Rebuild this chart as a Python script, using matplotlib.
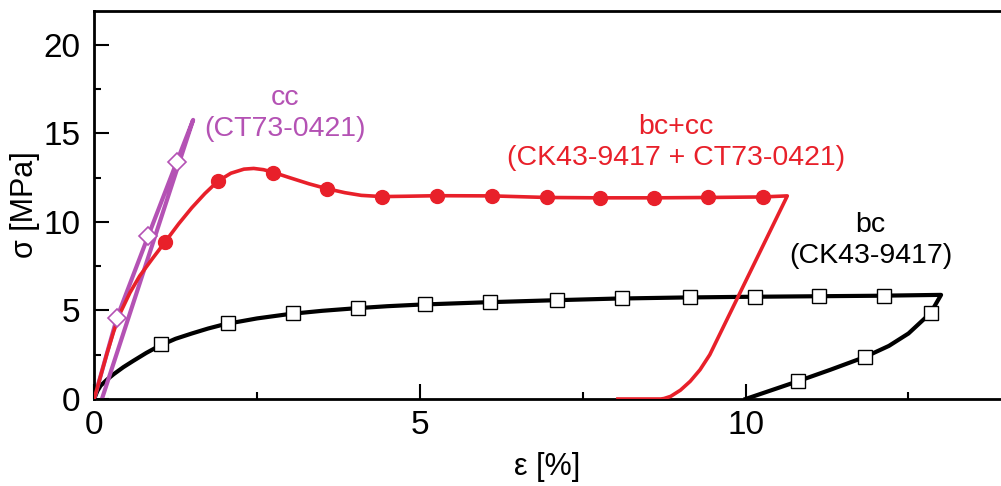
import matplotlib
matplotlib.use('Agg')
import matplotlib.pyplot as plt
from matplotlib.ticker import MultipleLocator

plt.rcParams['font.family'] = ['Liberation Sans', 'DejaVu Sans']

# bc (CK43-9417): loading + unloading curve
bc_x = [0, 0.05, 0.1, 0.2, 0.3, 0.45, 0.6, 0.8, 1.0, 1.25, 1.5, 1.75, 2.0, 2.5, 3.0, 3.5, 4.0, 4.5,
        5.0, 6.0, 7.0, 8.0, 9.0, 10.0, 11.0, 12.0, 13.0,
        12.84, 12.5, 12.2, 11.83, 11.3, 10.8, 10.4, 10.0]
bc_y = [0, 0.45, 0.75, 1.1, 1.4, 1.8, 2.15, 2.6, 3.0, 3.4, 3.7, 3.98, 4.22, 4.55, 4.8, 4.98, 5.12, 5.24,
        5.33, 5.46, 5.57, 5.67, 5.73, 5.77, 5.8, 5.83, 5.88,
        4.86, 3.7, 3.0, 2.37, 1.65, 1.0, 0.5, 0]
bc_mx = [1.03, 2.05, 3.05, 4.05, 5.08, 6.07, 7.1, 8.1, 9.14, 10.14, 11.13, 12.13, 12.84, 11.83, 10.8]
bc_my = [3.1, 4.3, 4.86, 5.14, 5.37, 5.48, 5.59, 5.7, 5.76, 5.76, 5.82, 5.82, 4.86, 2.37, 1.0]

# bc+cc (CK43-9417 + CT73-0421)
mix_x = [0, 0.1, 0.2, 0.3, 0.4, 0.55, 0.7, 0.9, 1.09, 1.3, 1.5, 1.7, 1.9, 2.1, 2.3, 2.45, 2.6, 2.75,
         3.0, 3.3, 3.57, 3.85, 4.1, 4.42, 4.8, 5.26, 6.1, 6.95, 7.76, 8.6, 9.43, 10.26, 10.64,
         9.45, 9.3, 9.15, 9.0, 8.85, 8.75, 8.7, 8.04]
mix_y = [0, 1.3, 2.6, 3.8, 4.85, 6.0, 6.95, 7.95, 8.87, 9.9, 10.8, 11.6, 12.3, 12.75, 12.98, 13.02, 12.95, 12.8,
         12.5, 12.15, 11.88, 11.65, 11.5, 11.43, 11.45, 11.48, 11.47, 11.38, 11.36, 11.36, 11.38, 11.41, 11.47,
         2.5, 1.65, 1.0, 0.5, 0.15, 0.03, 0, 0]
mix_mx = [1.09, 1.9, 2.75, 3.57, 4.42, 5.26, 6.1, 6.95, 7.76, 8.6, 9.43, 10.26]
mix_my = [8.87, 12.3, 12.77, 11.86, 11.41, 11.47, 11.47, 11.38, 11.36, 11.36, 11.38, 11.41]

# cc (CT73-0421)
cc_x = [0, 0.35, 0.83, 1.27, 1.52, 0.12]
cc_y = [0, 4.58, 9.2, 13.4, 15.76, 0]
cc_mx = [0.35, 0.83, 1.27]
cc_my = [4.58, 9.2, 13.4]

red = '#e8202a'
purple = '#b452b4'

fig = plt.figure(figsize=(10.01, 4.86), dpi=100)
ax = fig.add_axes([0.094, 0.179, 0.906, 0.798])

ax.plot(bc_x, bc_y, color='black', lw=3, zorder=2)
ax.plot(bc_mx, bc_my, ls='none', marker='s', ms=10.5, mfc='white', mec='black', mew=1, zorder=3)
ax.plot(cc_x, cc_y, color=purple, lw=3, zorder=2)
ax.plot(mix_x, mix_y, color=red, lw=2.6, zorder=4)
ax.plot(mix_mx, mix_my, ls='none', marker='o', ms=10, color=red, zorder=5)
ax.plot(cc_mx, cc_my, ls='none', marker='D', ms=9, mfc='white', mec=purple, mew=1.2, zorder=6)

ax.text(2.93, 16.1, 'cc\n(CT73-0421)', color=purple, fontsize=20.5, ha='center', va='center', linespacing=1.25)
ax.text(8.93, 14.5, 'bc+cc\n(CK43-9417 + CT73-0421)', color=red, fontsize=20.5, ha='center', va='center', linespacing=1.25)
ax.text(11.92, 8.95, 'bc\n(CK43-9417)', color='black', fontsize=20.5, ha='center', va='center', linespacing=1.25)

ax.set_xlim(0, 13.92)
ax.set_ylim(0, 21.9)
ax.xaxis.set_major_locator(MultipleLocator(5))
ax.xaxis.set_minor_locator(MultipleLocator(2.5))
ax.yaxis.set_major_locator(MultipleLocator(5))
ax.yaxis.set_minor_locator(MultipleLocator(2.5))
ax.tick_params(which='major', direction='in', length=11, width=1.5, labelsize=24)
ax.tick_params(which='minor', direction='in', length=5, width=1.5)
ax.tick_params(axis='y', which='major', pad=10)
ax.tick_params(axis='x', which='major', pad=8)
ax.spines['right'].set_visible(False)
for s in ['left', 'bottom', 'top']:
    ax.spines[s].set_linewidth(2)

ax.set_xlabel('ε [%]', fontsize=22, labelpad=8)
ax.set_ylabel('σ [MPa]', fontsize=22, labelpad=2)

fig.savefig('out.png', dpi=100)
